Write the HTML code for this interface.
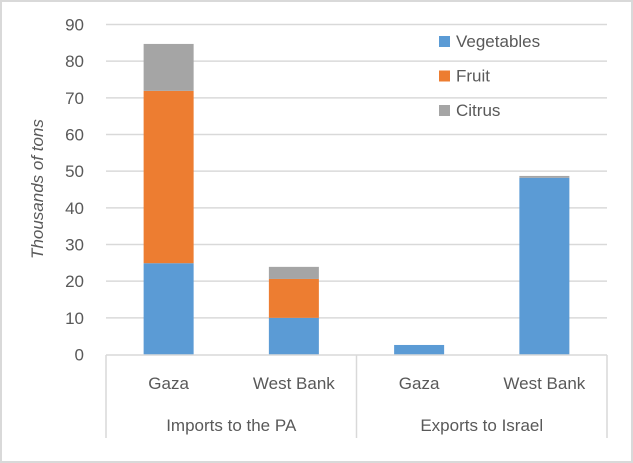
<!DOCTYPE html>
<html><head><meta charset="utf-8"><style>
body{margin:0;background:#fff;}
svg{display:block;font-family:"Liberation Sans",sans-serif;}
</style></head><body>
<svg id="chart" width="633" height="463">
<rect x="1" y="1" width="631" height="461" fill="#fff" stroke="#d9d9d9" stroke-width="2"/>
<g id="grid"></g><g id="bars"></g><g id="axis"></g>
<text transform="translate(43,189) rotate(-90)" text-anchor="middle" font-size="17" font-style="italic" fill="#595959">Thousands of tons</text>
<g id="legend"></g>
</svg>
<script>
const categories=["Gaza","West Bank","Gaza","West Bank"];
const groups=["Imports to the PA","Exports to Israel"];
const seriesNames=["Vegetables","Fruit","Citrus"];
const colors=["#5b9bd5","#ed7d31","#a5a5a5"];
const vegetables=[24.9,10.0,2.6,48.2];
const fruit=[47.0,10.6,0,0];
const citrus=[12.8,3.3,0,0.5];
const yTicks=[0,10,20,30,40,50,60,70,80,90];
const NS="http://www.w3.org/2000/svg";
const x0=106,x1=607,y0=354.5,yTop=24.5,yMax=90;
const y=v=>y0-(v/yMax)*(y0-yTop);
const bandW=(x1-x0)/categories.length;
const xc=i=>x0+bandW*(i+0.5);
function mk(tag,attrs,parent,text){const e=document.createElementNS(NS,tag);for(const k in attrs)e.setAttribute(k,attrs[k]);if(text!==undefined)e.textContent=text;parent.appendChild(e);return e;}
const grid=document.getElementById('grid'),bars=document.getElementById('bars'),axis=document.getElementById('axis'),legend=document.getElementById('legend');
yTicks.forEach(t=>{
 if(t>0){const l=mk('line',{x1:x0,x2:x1,y1:y(t),y2:y(t),stroke:'#d9d9d9','stroke-width':1.5},grid);
 
 }
 const tx=mk('text',{x:84,y:y(t)+6,'text-anchor':'end','font-size':17,fill:'#595959'},axis,String(t));
 
 
});
const series=[vegetables,fruit,citrus];
categories.forEach((c,i)=>{
 let base=0;
 series.forEach((s,k)=>{
  const v=s[i]; if(!v)return;
  const r=mk('rect',{x:xc(i)-25,width:50,y:y(base+v),height:y(base)-y(base+v),fill:colors[k]},bars);
  
  
  base+=v;
 });
 const t=mk('text',{x:xc(i),y:389,'text-anchor':'middle','font-size':17,fill:'#595959'},axis,c);
 
 
});
const bl=mk('line',{x1:x0,x2:x1,y1:355,y2:355,stroke:'#d9d9d9','stroke-width':1.5},axis);


[x0,(x0+x1)/2,x1].forEach(xx=>{
 const l=mk('line',{x1:xx,x2:xx,y1:355,y2:438,stroke:'#d9d9d9','stroke-width':1.5},axis);
 
 
});
groups.forEach((g,j)=>{
 const t=mk('text',{x:x0+(x1-x0)/4*(2*j+1),y:431,'text-anchor':'middle','font-size':17,fill:'#595959'},axis,g);
 
 
});
seriesNames.forEach((n,k)=>{
 const yy=41+k*34.5;
 const r=mk('rect',{x:439,y:yy-5,width:11,height:11,fill:colors[k]},legend);
 
 
 const t=mk('text',{x:456,y:yy+6,'font-size':17,fill:'#595959'},legend,n);
 
 
});
</script>
</body></html>
